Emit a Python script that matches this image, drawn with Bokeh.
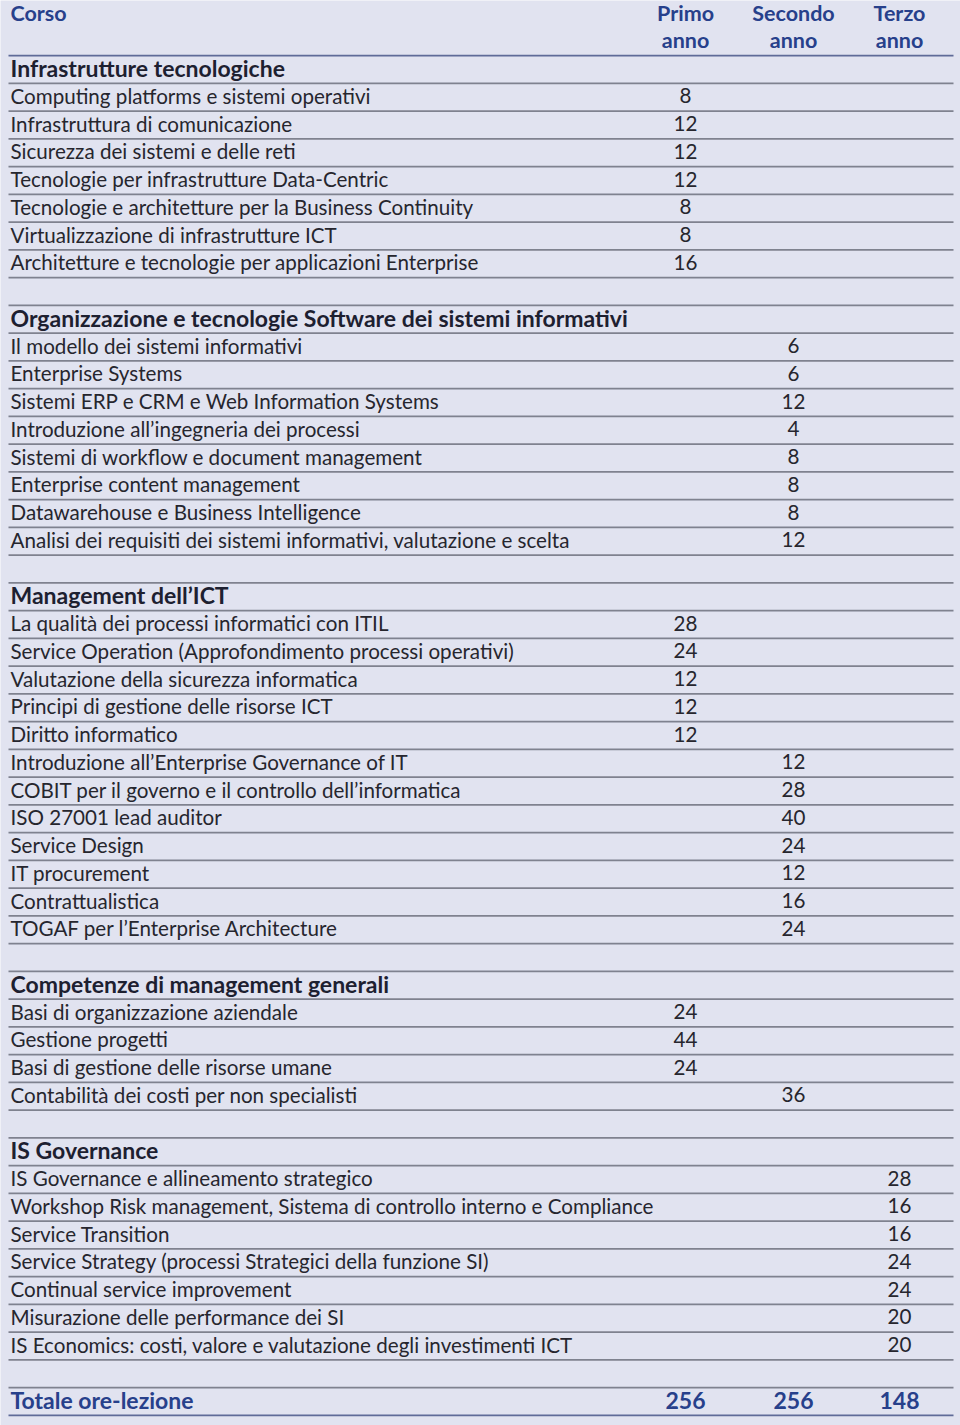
from bokeh.plotting import figure
from bokeh.models import Range1d, ColumnDataSource
from bokeh.core.properties import value
from bokeh.embed import file_html
from bokeh.resources import INLINE

# ---------------- data ----------------
year_labels = ["Primo", "Secondo", "Terzo"]
header_label = "Corso"
total_label = "Totale ore-lezione"

section_names = [
    "Infrastrutture tecnologiche",
    "Organizzazione e tecnologie Software dei sistemi informativi",
    "Management dell\u2019ICT",
    "Competenze di management generali",
    "IS Governance",
]

s1_courses = [
    "Computing platforms e sistemi operativi",
    "Infrastruttura di comunicazione",
    "Sicurezza dei sistemi e delle reti",
    "Tecnologie per infrastrutture Data-Centric",
    "Tecnologie e architetture per la Business Continuity",
    "Virtualizzazione di infrastrutture ICT",
    "Architetture e tecnologie per applicazioni Enterprise",
]
s1_year = [0, 0, 0, 0, 0, 0, 0]
s1_hours = [8, 12, 12, 12, 8, 8, 16]

s2_courses = [
    "Il modello dei sistemi informativi",
    "Enterprise Systems",
    "Sistemi ERP e CRM e Web Information Systems",
    "Introduzione all\u2019ingegneria dei processi",
    "Sistemi di workflow e document management",
    "Enterprise content management",
    "Datawarehouse e Business Intelligence",
    "Analisi dei requisiti dei sistemi informativi, valutazione e scelta",
]
s2_year = [1, 1, 1, 1, 1, 1, 1, 1]
s2_hours = [6, 6, 12, 4, 8, 8, 8, 12]

s3_courses = [
    "La qualit\u00e0 dei processi informatici con ITIL",
    "Service Operation (Approfondimento processi operativi)",
    "Valutazione della sicurezza informatica",
    "Principi di gestione delle risorse ICT",
    "Diritto informatico",
    "Introduzione all\u2019Enterprise Governance of IT",
    "COBIT per il governo e il controllo dell\u2019informatica",
    "ISO 27001 lead auditor",
    "Service Design",
    "IT procurement",
    "Contrattualistica",
    "TOGAF per l\u2019Enterprise Architecture",
]
s3_year = [0, 0, 0, 0, 0, 1, 1, 1, 1, 1, 1, 1]
s3_hours = [28, 24, 12, 12, 12, 12, 28, 40, 24, 12, 16, 24]

s4_courses = [
    "Basi di organizzazione aziendale",
    "Gestione progetti",
    "Basi di gestione delle risorse umane",
    "Contabilit\u00e0 dei costi per non specialisti",
]
s4_year = [0, 0, 0, 1]
s4_hours = [24, 44, 24, 36]

s5_courses = [
    "IS Governance e allineamento strategico",
    "Workshop Risk management, Sistema di controllo interno e Compliance",
    "Service Transition",
    "Service Strategy (processi Strategici della funzione SI)",
    "Continual service improvement",
    "Misurazione delle performance dei SI",
    "IS Economics: costi, valore e valutazione degli investimenti ICT",
]
s5_year = [2, 2, 2, 2, 2, 2, 2]
s5_hours = [28, 16, 16, 24, 24, 20, 20]

totals = [256, 256, 148]

sections = list(zip(section_names,
                    [s1_courses, s2_courses, s3_courses, s4_courses, s5_courses],
                    [s1_year, s2_year, s3_year, s4_year, s5_year],
                    [s1_hours, s2_hours, s3_hours, s4_hours, s5_hours]))

# ---------------- layout ----------------
BG = "#e1e3f0"
BLUE = "#27408b"
DARK = "#1d2030"
TEXT = "#26262e"
GRID = "#7f828f"
FONT = "Lato"

W, H = 960, 1425
p = figure(width=W, height=H, output_backend="svg", toolbar_location=None,
           x_range=Range1d(0, W), y_range=Range1d(H, 0),
           min_border=0, background_fill_color=BG, border_fill_color=BG,
           outline_line_color=None)
p.axis.visible = False
p.grid.visible = False

Y0, PITCH = 69.0, 27.75
DY = -1.5  # text vertical nudge
XL = 10
col_x = [685, 793, 899]
X0_LINE, X_END = 8, 953

sec_rows = {"x": [], "y": [], "t": []}
item_rows = {"x": [], "y": [], "t": []}
num_rows = {"x": [], "y": [], "t": []}

r = 0
for name, courses, years, hours in sections:
    sec_rows["x"].append(XL); sec_rows["y"].append(Y0 + r * PITCH + DY); sec_rows["t"].append(name)
    r += 1
    for c, yr, h in zip(courses, years, hours):
        y = Y0 + r * PITCH + DY
        item_rows["x"].append(XL); item_rows["y"].append(y); item_rows["t"].append(c)
        num_rows["x"].append(col_x[yr]); num_rows["y"].append(y); num_rows["t"].append(str(h))
        r += 1
    r += 1  # blank row
total_r = r
n_rows = total_r + 1

# separator lines
ys = [Y0 - PITCH / 2 + k * PITCH for k in range(1, n_rows)]
p.segment(x0=[X0_LINE] * len(ys), x1=[X_END] * len(ys), y0=ys, y1=ys,
          line_color=GRID, line_width=1.6)
# header line and bottom line (blue-grey)
yb = [Y0 - PITCH / 2, Y0 + total_r * PITCH + PITCH / 2]
p.segment(x0=[X0_LINE] * 2, x1=[X_END] * 2, y0=yb, y1=yb, line_color="#5f6b98", line_width=1.6)

p.text(x="x", y="y", text="t", source=ColumnDataSource(item_rows),
       text_font=value(FONT), text_font_size="20.6px", text_color=TEXT,
       text_baseline="middle", text_align="left")
p.text(x="x", y="y", text="t", source=ColumnDataSource(num_rows),
       text_font=value(FONT), text_font_size="20.6px", text_color=TEXT,
       text_baseline="middle", text_align="center")
p.text(x="x", y="y", text="t", source=ColumnDataSource(sec_rows),
       text_font=value(FONT), text_font_size="23px", text_font_style="bold",
       text_color=DARK, text_baseline="middle", text_align="left")

# header
p.text(x=[XL], y=[14 + DY], text=[header_label], text_font=value(FONT),
       text_font_size="21.5px", text_font_style="bold", text_color=BLUE,
       text_baseline="middle", text_align="left")
p.text(x=col_x, y=[14 + DY] * 3, text=year_labels, text_font=value(FONT),
       text_font_size="21.5px", text_font_style="bold", text_color=BLUE,
       text_baseline="middle", text_align="center")
p.text(x=col_x, y=[41 + DY] * 3, text=["anno"] * 3, text_font=value(FONT),
       text_font_size="21.5px", text_font_style="bold", text_color=BLUE,
       text_baseline="middle", text_align="center")

# totals
yt = Y0 + total_r * PITCH + DY
p.text(x=[XL], y=[yt], text=[total_label], text_font=value(FONT),
       text_font_size="23px", text_font_style="bold", text_color=BLUE,
       text_baseline="middle", text_align="left")
p.text(x=col_x, y=[yt] * 3, text=[str(t) for t in totals], text_font=value(FONT),
       text_font_size="23px", text_font_style="bold", text_color=BLUE,
       text_baseline="middle", text_align="center")

open("out.html", "w").write(file_html(p, INLINE))
